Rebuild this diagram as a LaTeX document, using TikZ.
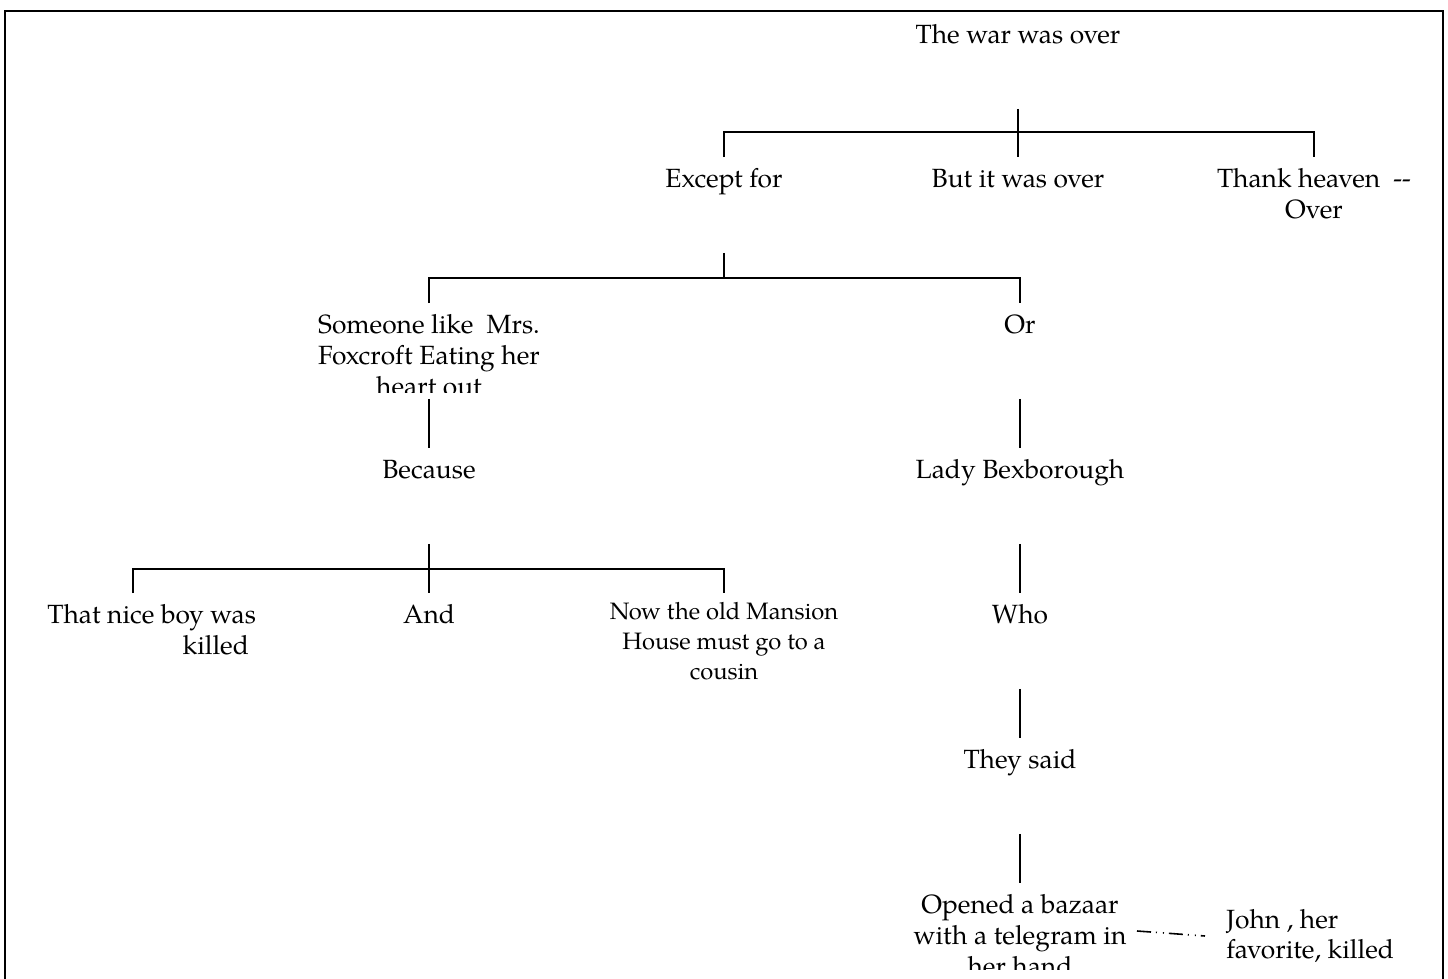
\documentclass[tikz,border=0pt]{standalone}
\usepackage{fontspec}
\setmainfont{TeX Gyre Pagella}
\usepackage{tikz}
\newcommand{\tb}[2]{\parbox[c][1.92cm][t]{#1}{\vspace*{5pt}\centering\strut #2}}
\newcommand{\tbsmall}[2]{\parbox[c][1.92cm][t]{#1}{\fontsize{13.5}{17.2}\selectfont\vspace*{3pt}\centering\strut #2}}
\tikzset{
  tbox/.style={inner sep=0pt, outer sep=0pt},
  link/.style={line width=0.6pt},
  dashdot/.style={line width=0.9pt, dash pattern=on 8pt off 2.8pt on 0.6pt off 3.4pt on 0.6pt off 2.8pt}
}
\begin{document}
\begin{tikzpicture}[x=0.02cm, y=-0.02cm, font=\fontsize{15}{17.6}\selectfont]
\useasboundingbox (0,0) rectangle (1448,979);
\draw[line width=1.4pt] (5,11) rectangle (1443,1010);

\node[tbox] (war) at (1018,61) {\tb{4.8cm}{The war was over}};
\node[tbox] (except) at (724,205) {\tb{4cm}{Except for}};
\node[tbox] (but) at (1018,205) {\tb{4.4cm}{But it was over}};
\node[tbox] (thank) at (1314,205) {\tb{4.4cm}{Thank heaven \ -{}-\\Over}};
\begin{scope}
  \clip (300,303) rectangle (560,393);
  \node[tbox] (someone) at (429,351) {\tb{5cm}{Someone like \ Mrs.\\Foxcroft Eating her\\heart out}};
\end{scope}
\node[tbox] (or) at (1020,351) {\tb{2cm}{Or}};
\node[tbox] (because) at (429,496) {\tb{3cm}{Because}};
\node[tbox] (lady) at (1020,496) {\tb{4.4cm}{Lady Bexborough}};
\node[tbox] (nice) at (133,641) {\parbox[c][1.92cm][t]{4.92cm}{\vspace*{5pt}\raggedleft\strut That nice boy was\\killed\hspace*{0.14cm}}};
\node[tbox] (and) at (429,641) {\tb{1.6cm}{And}};
\node[tbox] (mansion) at (724,641) {\tbsmall{4.8cm}{Now the old Mansion\\House must go to a\\cousin}};
\node[tbox] (who) at (1020,641) {\tb{2cm}{Who}};
\node[tbox] (they) at (1020,786) {\tb{3.2cm}{They said}};
\begin{scope}
  \clip (880,883) rectangle (1160,969);
  \node[tbox] (opened) at (1020,931) {\tb{4.68cm}{Opened a bazaar\\with a telegram in\\her hand}};
\end{scope}
\node[anchor=west, inner xsep=0.42cm, inner ysep=0pt, align=left] (john) at (1205,936) {John , her\\favorite, killed};

\draw[link] (war.south) -- (but.north);
\draw[link] (except.north) -- ++(0,-25) coordinate (j1) -| (thank.north);
\draw[link] (except.south) -- ++(0,25) coordinate (j2);
\draw[link] (someone.north) |- (j2) -| (or.north);
\draw[link] (someone.south) -- (because.north);
\draw[link] (because.south) -- (and.north);
\draw[link] (nice.north) -- ++(0,-24) coordinate (j3) -| (mansion.north);
\draw[link] (or.south) -- (lady.north);
\draw[link] (lady.south) -- (who.north);
\draw[link] (who.south) -- (they.north);
\draw[link] (they.south) -- (opened.north);
\draw[dashdot] (opened.east) -- (john.west);
\end{tikzpicture}
\end{document}
